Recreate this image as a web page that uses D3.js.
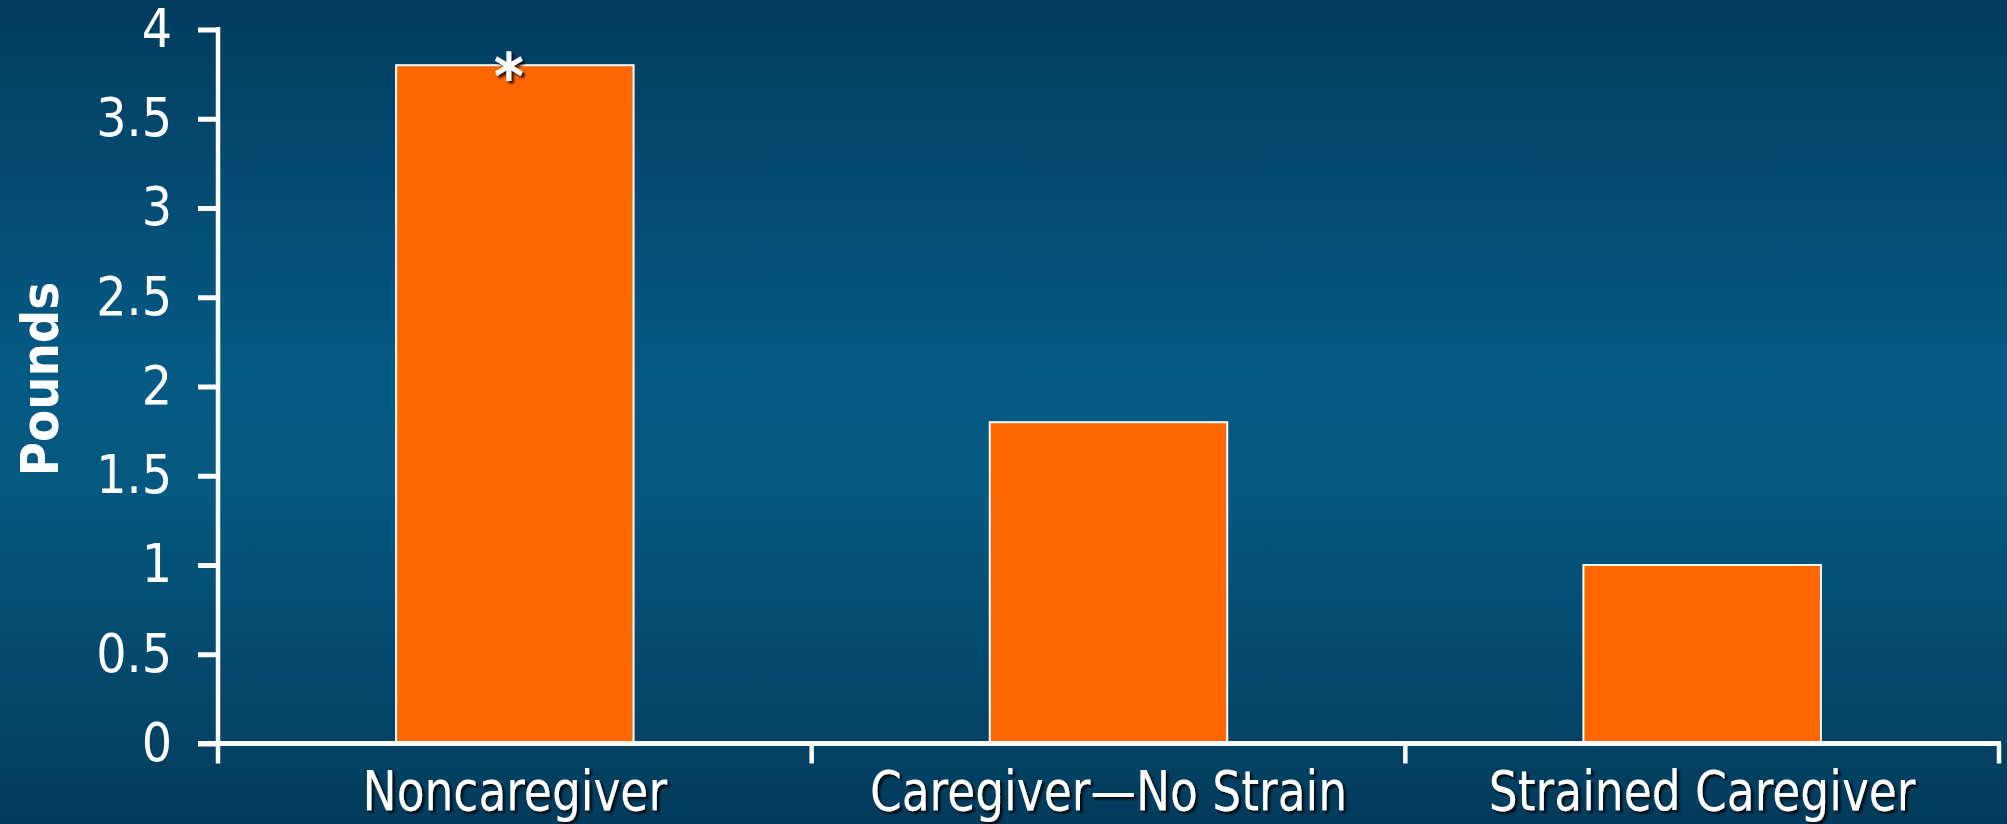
<!DOCTYPE html>
<html>
<head>
<meta charset="utf-8">
<script src="https://cdn.jsdelivr.net/npm/d3@7"></script>
<style>
  html, body { margin: 0; padding: 0; background: #044e75; }
  svg { display: block; }
  .cond { font-family: 'DejaVu Sans Condensed', 'DejaVu Sans', Verdana, sans-serif; font-stretch: condensed; }
</style>
</head>
<body>
<svg id="chart" width="2007" height="824"></svg>
<script>
const categories = ["Noncaregiver", "Caregiver\u2014No Strain", "Strained Caregiver"];
const values = [3.8, 1.8, 1.0];
const markers = ["*", "", ""];
const yTicks = [0, 0.5, 1, 1.5, 2, 2.5, 3, 3.5, 4];
const yTickLabels = ["0", "0.5", "1", "1.5", "2", "2.5", "3", "3.5", "4"];
const yTitle = "Pounds";

const W = 2007, H = 824;
const svg = d3.select("#chart");
const defs = svg.append("defs");

const grad = defs.append("linearGradient").attr("id", "bg")
  .attr("x1", 0).attr("y1", 0).attr("x2", 0).attr("y2", 1);
[[0, "#023c5f"], [0.45, "#055a84"], [0.6, "#05587f"], [1, "#033b5c"]].forEach(([o, c]) =>
  grad.append("stop").attr("offset", o).attr("stop-color", c));

const shadow = defs.append("filter").attr("id", "shadow")
  .attr("x", "-10%").attr("y", "-30%").attr("width", "130%").attr("height", "160%");
shadow.append("feDropShadow").attr("dx", 2.5).attr("dy", 2.5).attr("stdDeviation", 0.8)
  .attr("flood-color", "#000").attr("flood-opacity", 0.85);

svg.append("rect").attr("width", W).attr("height", H).attr("fill", "url(#bg)");

const y = d3.scaleLinear().domain([0, 4]).range([743.5, 29.5]);
const x = d3.scaleBand().domain(categories).range([218, 1999]).padding(0);
const bw = x.bandwidth();

// Bars
svg.append("g").selectAll("rect").data(values).join("rect")
  .attr("x", (d, i) => x(categories[i]) + bw * 0.3)
  .attr("width", bw * 0.4)
  .attr("y", d => y(d))
  .attr("height", d => y(0) - y(d))
  .attr("fill", "#ff6600")
  .attr("stroke", "#ffffff")
  .attr("stroke-width", 2);

// Significance markers
svg.append("g").selectAll("text").data(values).join("text")
  .attr("class", "cond")
  .attr("x", (d, i) => x(categories[i]) + bw / 2 - 6)
  .attr("y", d => y(d) + 34)
  .attr("text-anchor", "middle")
  .attr("font-weight", "bold")
  .attr("font-size", 64)
  .attr("fill", "#fff")
  .attr("filter", "url(#shadow)")
  .text((d, i) => markers[i]);

// Y axis
const yAxis = d3.axisLeft(y)
  .tickValues(yTicks)
  .tickFormat((d, i) => yTickLabels[i])
  .tickSize(20)
  .tickSizeOuter(0)
  .tickPadding(26);
const gy = svg.append("g").attr("transform", "translate(218,0)").call(yAxis);
gy.attr("font-family", null);
gy.select(".domain").remove();
gy.selectAll(".tick line").attr("stroke", "#fff").attr("stroke-width", 5);
gy.selectAll(".tick text")
  .attr("class", "cond")
  .attr("fill", "#fff")
  .attr("font-size", 53);

// Y axis line, extending below the baseline as the first category tick
svg.append("line")
  .attr("x1", 218).attr("x2", 218)
  .attr("y1", y(4) - 2.5).attr("y2", y(0) + 20)
  .attr("stroke", "#fff").attr("stroke-width", 4.5);

// X axis baseline
svg.append("line")
  .attr("x1", 198).attr("x2", x.range()[1] + 2)
  .attr("y1", y(0)).attr("y2", y(0))
  .attr("stroke", "#fff").attr("stroke-width", 5);

// Category boundary ticks
svg.append("g").selectAll("line").data(categories).join("line")
  .attr("x1", d => x(d) + bw).attr("x2", d => x(d) + bw)
  .attr("y1", y(0)).attr("y2", y(0) + 20)
  .attr("stroke", "#fff").attr("stroke-width", 4.5);

// X axis labels
const xAxis = d3.axisBottom(x).tickSize(0).tickPadding(0);
const gx = svg.append("g").attr("transform", `translate(0,${y(0)})`).call(xAxis);
gx.attr("font-family", null);
gx.select(".domain").remove();
gx.selectAll(".tick text")
  .attr("class", "cond")
  .attr("y", 66)
  .attr("dy", 0)
  .attr("fill", "#fff")
  .attr("font-size", 55)
  .attr("filter", "url(#shadow)")
  .each(function () {
    const len = this.getComputedTextLength();
    d3.select(this).attr("textLength", len * 0.92).attr("lengthAdjust", "spacingAndGlyphs");
  });

// Y title
svg.append("text")
  .attr("class", "cond")
  .attr("transform", "translate(58,379) rotate(-90)")
  .attr("text-anchor", "middle")
  .attr("fill", "#fff")
  .attr("font-weight", "bold")
  .attr("font-size", 52)
  .text(yTitle);
</script>
</body>
</html>
